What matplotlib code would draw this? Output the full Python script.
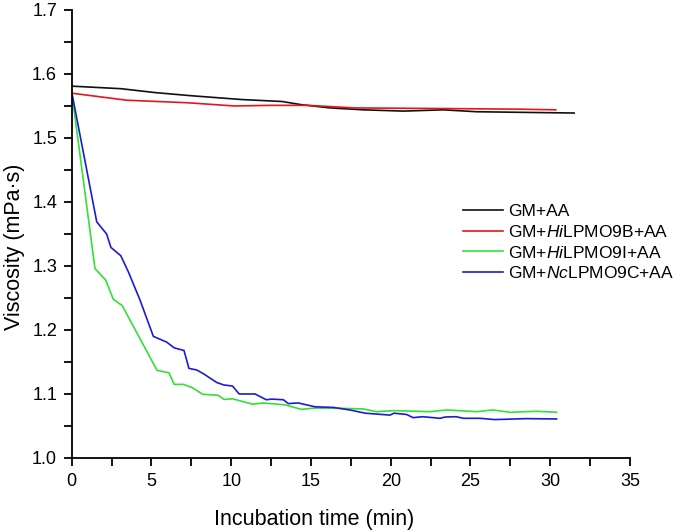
import matplotlib
matplotlib.use("Agg")
import matplotlib.pyplot as plt
from matplotlib.ticker import MultipleLocator

plt.rcParams['font.family'] = ['Liberation Sans', 'DejaVu Sans']
plt.rcParams['mathtext.fontset'] = 'custom'
plt.rcParams['mathtext.rm'] = 'Liberation Sans'
plt.rcParams['mathtext.it'] = 'Liberation Sans:italic'

# GM+AA
t_gm = [0, 3.1, 5.2, 7.5, 10.7, 13.2, 14.4, 16.2, 18.3, 20.8, 23.3, 25.4, 31.5]
v_gm = [1.581, 1.577, 1.571, 1.566, 1.560, 1.557, 1.552, 1.547, 1.544, 1.542,
        1.544, 1.541, 1.539]

# GM+HiLPMO9B+AA
t_9b = [0, 3.45, 7.3, 10.2, 12.5, 14.8, 17.7, 23.3, 28.1, 30.35]
v_9b = [1.570, 1.559, 1.555, 1.550, 1.551, 1.551, 1.547, 1.546, 1.545, 1.544]

# GM+HiLPMO9I+AA
t_9i = [0, 1.46, 2.13, 2.61, 3.17, 5.35, 6.1, 6.43, 7.0, 7.55, 8.22, 9.17, 9.57,
        10.08, 11.35, 12.0, 13.37, 14.4, 15.25, 16.8, 18.3, 19.1, 20.2, 22.46,
        23.5, 25.4, 26.4, 27.5, 29.15, 30.4]
v_9i = [1.572, 1.296, 1.278, 1.248, 1.238, 1.137, 1.133, 1.115, 1.115, 1.110,
        1.0995, 1.098, 1.0915, 1.0925, 1.084, 1.086, 1.083, 1.076, 1.078, 1.0777,
        1.0766, 1.0724, 1.074, 1.0724, 1.075, 1.0724, 1.075, 1.0714, 1.073, 1.0714]

# GM+NcLPMO9C+AA
t_9c = [0, 1.57, 2.19, 2.46, 3.08, 3.55, 4.28, 5.12, 5.96, 6.43, 7.04, 7.35,
        7.84, 8.3, 9.09, 9.55, 10.08, 10.5, 11.5, 12.2, 12.54, 13.27, 13.58,
        14.2, 15.25, 16.4, 17.45, 18.4, 19.96, 20.2, 21.0, 21.4, 22.0, 23.1,
        23.4, 24.1, 24.55, 25.6, 26.5, 28.5, 30.4]
v_9c = [1.572, 1.369, 1.350, 1.329, 1.316, 1.291, 1.247, 1.190, 1.181, 1.172,
        1.168, 1.140, 1.1375, 1.131, 1.118, 1.114, 1.1125, 1.100, 1.100, 1.091,
        1.092, 1.091, 1.085, 1.086, 1.080, 1.079, 1.075, 1.070, 1.067, 1.070,
        1.068, 1.063, 1.0645, 1.062, 1.064, 1.0645, 1.062, 1.062, 1.060, 1.0615,
        1.061]

labels = ['GM+AA', 'GM+$\\it{Hi}$LPMO9B+AA', 'GM+$\\it{Hi}$LPMO9I+AA',
          'GM+$\\it{Nc}$LPMO9C+AA']
colors = ['#111111', '#e8141c', '#33e033', '#1c1cd2']

fig = plt.figure(figsize=(6.75, 5.31), dpi=100)
ax = fig.add_axes([0.1062, 0.1375, 0.8271, 0.8437])

series = [(t_gm, v_gm), (t_9b, v_9b), (t_9i, v_9i), (t_9c, v_9c)]
for (t, v), lab, c in zip(series, labels, colors):
    ax.plot(t, v, color=c, lw=1.2, label=lab)

ax.set_xlim(0, 35)
ax.set_ylim(1.0, 1.7)
ax.xaxis.set_major_locator(MultipleLocator(5))
ax.xaxis.set_minor_locator(MultipleLocator(2.5))
ax.yaxis.set_major_locator(MultipleLocator(0.1))
ax.yaxis.set_minor_locator(MultipleLocator(0.05))
ax.yaxis.set_major_formatter(plt.FormatStrFormatter('%.1f'))
ax.spines['top'].set_visible(False)
ax.spines['right'].set_visible(False)
for s in ['left', 'bottom']:
    ax.spines[s].set_linewidth(1.3)
ax.tick_params(which='both', direction='out', length=5.5, width=1.3,
               labelsize=13, pad=5)

ax.set_xlabel('Incubation time (min)', fontsize=15.5)
ax.xaxis.set_label_coords(0.434, -0.113)
ax.set_ylabel('Viscosity (mPa\u00b7s)', fontsize=15.5)
ax.yaxis.set_label_coords(-0.083, 0.472)

ax.legend(loc='upper left', bbox_to_anchor=(463 / 675, 1 - 204 / 531),
          bbox_transform=fig.transFigure, frameon=False, fontsize=12.5,
          handlelength=2.3, handletextpad=0.29, labelspacing=0.27,
          borderpad=0, borderaxespad=0)

fig.savefig('out.png', dpi=100)
